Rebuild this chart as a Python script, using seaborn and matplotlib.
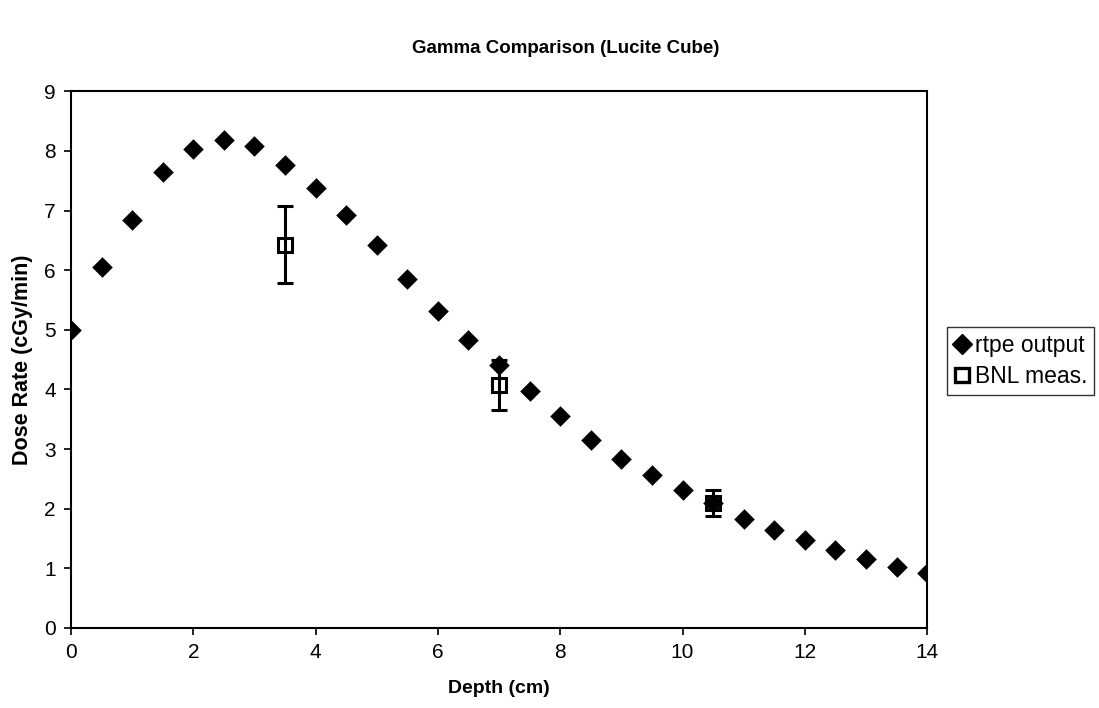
import matplotlib
matplotlib.use("Agg")
import matplotlib.pyplot as plt
import seaborn as sns
import pandas as pd
from matplotlib.lines import Line2D

# rtpe calculated dose rate vs depth
depth = [0.0, 0.5, 1.0, 1.5, 2.0, 2.5, 3.0, 3.5, 4.0, 4.5, 5.0, 5.5, 6.0, 6.5,
         7.0, 7.5, 8.0, 8.5, 9.0, 9.5, 10.0, 10.5, 11.0, 11.5, 12.0, 12.5,
         13.0, 13.5, 14.0]
rtpe_dose = [5.00, 6.05, 6.85, 7.65, 8.03, 8.18, 8.09, 7.76, 7.38, 6.92, 6.43,
             5.85, 5.32, 4.83, 4.41, 3.97, 3.56, 3.15, 2.84, 2.57, 2.31, 2.09,
             1.83, 1.64, 1.47, 1.30, 1.16, 1.03, 0.93]

# BNL measurements with uncertainty
bnl_depth = [3.5, 7.0, 10.5]
bnl_dose = [6.43, 4.07, 2.09]
bnl_err = [0.65, 0.42, 0.22]

x_ticks = [0, 2, 4, 6, 8, 10, 12, 14]
y_ticks = [0, 1, 2, 3, 4, 5, 6, 7, 8, 9]

sns.set_theme(style="white")
plt.rcParams["font.family"] = ["Liberation Sans", "DejaVu Sans"]
plt.rcParams["text.color"] = "black"
plt.rcParams["axes.labelcolor"] = "black"
plt.rcParams["xtick.color"] = "black"
plt.rcParams["ytick.color"] = "black"

fig = plt.figure(figsize=(10.99, 7.08), dpi=100)
ax = fig.add_axes([0.0646, 0.113, 0.779, 0.758])

df = pd.DataFrame({"Depth": depth, "Dose": rtpe_dose})
sns.scatterplot(data=df, x="Depth", y="Dose", ax=ax, marker="D", s=110,
                color="black", edgecolor="black", linewidth=0, zorder=3,
                legend=False)

ax.errorbar(bnl_depth, bnl_dose, yerr=bnl_err, fmt="s", ms=10.5, mfc="none",
            mec="black", mew=2.2, ecolor="black", elinewidth=2.2, capsize=6,
            capthick=2.2, zorder=4)

ax.set_xlim(0, 14)
ax.set_ylim(0, 9)
ax.set_xticks(x_ticks)
ax.set_yticks(y_ticks)
ax.tick_params(axis="both", which="major", direction="out", length=5,
               width=1.2, color="black", labelsize=15, pad=6,
               bottom=True, left=True)
for sp in ax.spines.values():
    sp.set_color("black")
    sp.set_linewidth(1.5)

ax.set_xlabel("Depth (cm)", fontsize=14, fontweight="bold", labelpad=13)
ax.set_ylabel("Dose Rate (cGy/min)", fontsize=15.5, fontweight="bold",
              labelpad=8)
fig.suptitle("Gamma Comparison (Lucite Cube)", fontsize=13.5, fontweight="bold",
             x=0.515, y=0.943)

handles = [
    Line2D([], [], marker="D", color="black", linestyle="none", ms=10),
    Line2D([], [], marker="s", mfc="white", mec="black", mew=2.4,
           linestyle="none", ms=10),
]
leg = fig.legend(handles, ["rtpe output", "BNL meas."], loc="center left",
                 bbox_to_anchor=(0.862, 0.49), fontsize=16.5, frameon=True,
                 fancybox=False, edgecolor="black", handlelength=0.7,
                 handletextpad=0.2, borderpad=0.3, labelspacing=0.35,
                 borderaxespad=0)
leg.get_frame().set_linewidth(1.0)

fig.savefig("out.png", dpi=100, facecolor="white")
